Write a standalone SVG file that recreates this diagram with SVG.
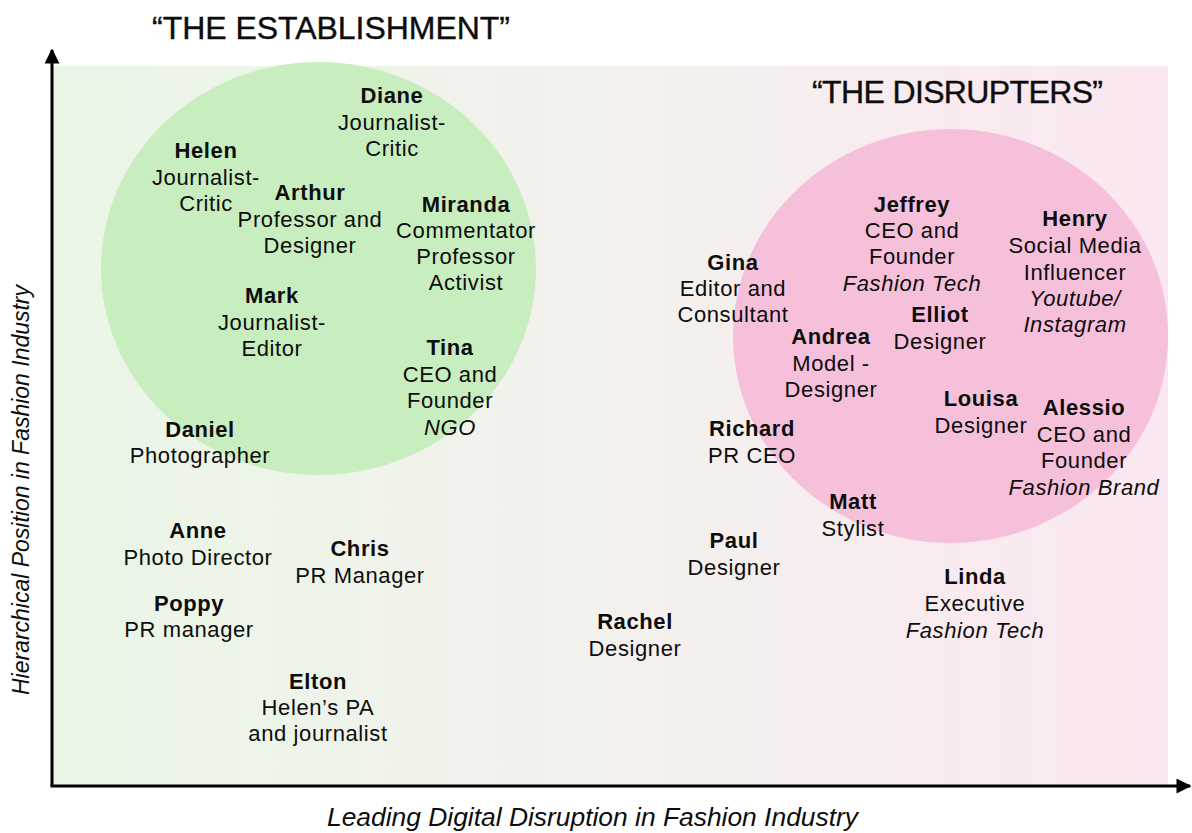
<svg xmlns="http://www.w3.org/2000/svg" width="1192" height="833" viewBox="0 0 1192 833">
  <defs>
    <linearGradient id="bgGrad" x1="0" y1="0" x2="1" y2="0">
      <stop offset="0" stop-color="#eaf6e6"/>
      <stop offset="0.5" stop-color="#f3f1ed"/>
      <stop offset="1" stop-color="#fbe7f1"/>
    </linearGradient>
    <marker id="arrowHead" viewBox="0 0 10 10" refX="9" refY="5" markerWidth="6" markerHeight="5" markerUnits="strokeWidth" orient="auto">
      <path d="M0,0 L10,5 L0,10 Z" fill="#000"/>
    </marker>
    <style>
      text { fill: #0d0d0d; text-anchor: middle; font-family: "Liberation Sans", Arial, sans-serif; }
      .nm { font-size: 22px; font-weight: bold; letter-spacing: 0.6px; }
      .rl { font-size: 22px; letter-spacing: 0.6px; }
      .it { font-style: italic; }
      .title { font-size: 32px; letter-spacing: 0; stroke: #0d0d0d; stroke-width: 0.4px; }
      .axis-label { font-style: italic; }
    </style>
  </defs>

  <!-- plot area -->
  <rect id="plot-area" x="52" y="66" width="1116" height="719" fill="url(#bgGrad)"/>

  <!-- clusters -->
  <ellipse id="establishment-zone" cx="318.5" cy="268.5" rx="217.5" ry="206.5" fill="#c8edbe"/>
  <ellipse id="disrupters-zone" cx="950.5" cy="336" rx="217.5" ry="207" fill="#f6c0db"/>

  <!-- titles -->
  <text class="title" x="331" y="39" textLength="358" lengthAdjust="spacing">“THE ESTABLISHMENT”</text>
  <text class="title" x="957.5" y="103" textLength="291" lengthAdjust="spacing">“THE DISRUPTERS”</text>

  <!-- axes -->
  <g id="connectors" stroke="#000" stroke-width="3" fill="none">
    <line x1="52" y1="786" x2="52" y2="50" marker-end="url(#arrowHead)"/>
    <line x1="50.5" y1="786" x2="1190" y2="786" marker-end="url(#arrowHead)"/>
  </g>
  <text class="axis-label" x="592.5" y="826" font-size="25" textLength="531" lengthAdjust="spacingAndGlyphs">Leading Digital Disruption in Fashion Industry</text>
  <text class="axis-label" transform="translate(29,490) rotate(-90)" x="0" y="0" font-size="23" textLength="410" lengthAdjust="spacingAndGlyphs">Hierarchical Position in Fashion Industry</text>

  <!-- people: the establishment side -->
  <g id="diane">
    <text class="nm" x="392" y="103">Diane</text>
    <text class="rl" x="392" y="130">Journalist-</text>
    <text class="rl" x="392" y="156">Critic</text>
  </g>
  <g id="helen">
    <text class="nm" x="206" y="158">Helen</text>
    <text class="rl" x="206" y="185">Journalist-</text>
    <text class="rl" x="206" y="211">Critic</text>
  </g>
  <g id="arthur">
    <text class="nm" x="310" y="200">Arthur</text>
    <text class="rl" x="310" y="227">Professor and</text>
    <text class="rl" x="310" y="253">Designer</text>
  </g>
  <g id="miranda">
    <text class="nm" x="466" y="212">Miranda</text>
    <text class="rl" x="466" y="238">Commentator</text>
    <text class="rl" x="466" y="264">Professor</text>
    <text class="rl" x="466" y="290">Activist</text>
  </g>
  <g id="mark">
    <text class="nm" x="272" y="303">Mark</text>
    <text class="rl" x="272" y="330">Journalist-</text>
    <text class="rl" x="272" y="356">Editor</text>
  </g>
  <g id="tina">
    <text class="nm" x="450" y="355">Tina</text>
    <text class="rl" x="450" y="382">CEO and</text>
    <text class="rl" x="450" y="408">Founder</text>
    <text class="rl it" x="450" y="435">NGO</text>
  </g>
  <g id="daniel">
    <text class="nm" x="200" y="437">Daniel</text>
    <text class="rl" x="200" y="463">Photographer</text>
  </g>
  <g id="anne">
    <text class="nm" x="198" y="538">Anne</text>
    <text class="rl" x="198" y="565">Photo Director</text>
  </g>
  <g id="chris">
    <text class="nm" x="360" y="556">Chris</text>
    <text class="rl" x="360" y="583">PR Manager</text>
  </g>
  <g id="poppy">
    <text class="nm" x="189" y="611">Poppy</text>
    <text class="rl" x="189" y="637">PR manager</text>
  </g>
  <g id="elton">
    <text class="nm" x="318" y="689">Elton</text>
    <text class="rl" x="318" y="715">Helen’s PA</text>
    <text class="rl" x="318" y="741">and journalist</text>
  </g>

  <!-- people: middle ground -->
  <g id="rachel">
    <text class="nm" x="635" y="629">Rachel</text>
    <text class="rl" x="635" y="656">Designer</text>
  </g>
  <g id="paul">
    <text class="nm" x="734" y="548">Paul</text>
    <text class="rl" x="734" y="575">Designer</text>
  </g>
  <g id="gina">
    <text class="nm" x="733" y="270">Gina</text>
    <text class="rl" x="733" y="296">Editor and</text>
    <text class="rl" x="733" y="322">Consultant</text>
  </g>
  <g id="richard">
    <text class="nm" x="752" y="436">Richard</text>
    <text class="rl" x="752" y="463">PR CEO</text>
  </g>

  <!-- people: the disrupters side -->
  <g id="jeffrey">
    <text class="nm" x="912" y="212">Jeffrey</text>
    <text class="rl" x="912" y="238">CEO and</text>
    <text class="rl" x="912" y="264">Founder</text>
    <text class="rl it" x="912" y="291">Fashion Tech</text>
  </g>
  <g id="henry">
    <text class="nm" x="1075" y="226">Henry</text>
    <text class="rl" x="1075" y="253">Social Media</text>
    <text class="rl" x="1075" y="280">Influencer</text>
    <text class="rl it" x="1075" y="306">Youtube/</text>
    <text class="rl it" x="1075" y="332">Instagram</text>
  </g>
  <g id="elliot">
    <text class="nm" x="940" y="322">Elliot</text>
    <text class="rl" x="940" y="349">Designer</text>
  </g>
  <g id="andrea">
    <text class="nm" x="831" y="344">Andrea</text>
    <text class="rl" x="831" y="371">Model -</text>
    <text class="rl" x="831" y="397">Designer</text>
  </g>
  <g id="louisa">
    <text class="nm" x="981" y="406">Louisa</text>
    <text class="rl" x="981" y="433">Designer</text>
  </g>
  <g id="alessio">
    <text class="nm" x="1084" y="415">Alessio</text>
    <text class="rl" x="1084" y="442">CEO and</text>
    <text class="rl" x="1084" y="468">Founder</text>
    <text class="rl it" x="1084" y="495">Fashion Brand</text>
  </g>
  <g id="matt">
    <text class="nm" x="853" y="509">Matt</text>
    <text class="rl" x="853" y="536">Stylist</text>
  </g>
  <g id="linda">
    <text class="nm" x="975" y="584">Linda</text>
    <text class="rl" x="975" y="611">Executive</text>
    <text class="rl it" x="975" y="638">Fashion Tech</text>
  </g>
</svg>
